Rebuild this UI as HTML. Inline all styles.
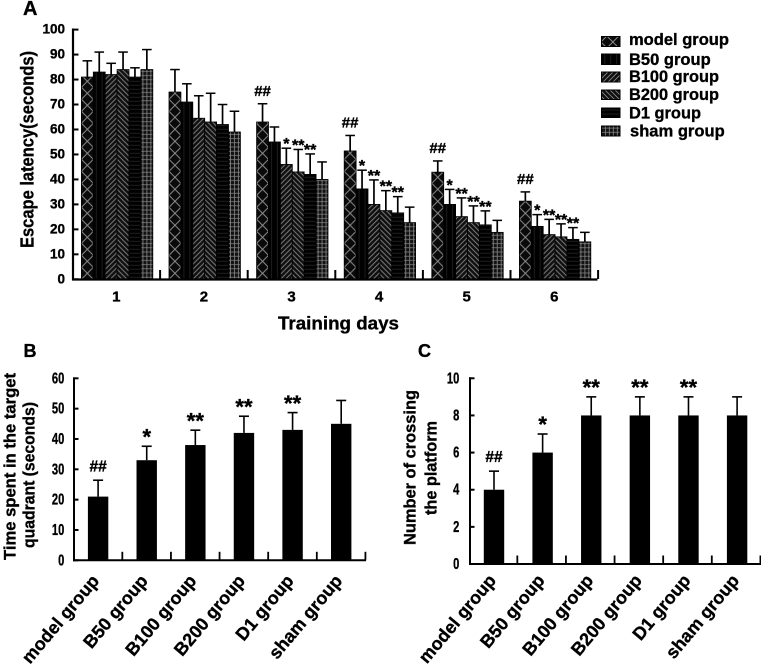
<!DOCTYPE html>
<html lang="en">
<head>
<meta charset="utf-8">
<title>Escape latency chart</title>
<style>
html,body{margin:0;padding:0;background:#fff;width:761px;height:666px;overflow:hidden}
svg{display:block;filter:blur(.35px)}
text{font-family:"Liberation Sans",sans-serif;font-weight:700;fill:#000;stroke:#000;stroke-width:.35px}
</style>
</head>
<body>
<svg id="figure" xmlns="http://www.w3.org/2000/svg" width="761" height="666" viewBox="0 0 761 666">
<defs>
<pattern id="p-model" patternUnits="userSpaceOnUse" width="11.9" height="12"><rect width="11.9" height="12" fill="#0a0a0a"/><path d="M0 0L11.9 12M11.9 0L0 12" stroke="#999" stroke-width=".9"/></pattern>
<pattern id="p-b50" patternUnits="userSpaceOnUse" width="5.9" height="6"><rect width="5.9" height="6" fill="#000"/><path d="M3 0V6" stroke="#1c1c1c" stroke-width="1"/></pattern>
<pattern id="p-b100" patternUnits="userSpaceOnUse" width="5" height="5"><rect width="5" height="5" fill="#101010"/><path d="M-1 6L6 -1M-1 1L1 -1M4 6L6 4" stroke="#8c8c8c" stroke-width=".8"/></pattern>
<pattern id="p-b200" patternUnits="userSpaceOnUse" width="5" height="5"><rect width="5" height="5" fill="#101010"/><path d="M-1 -1L6 6M4 -1L6 1M-1 4L1 6" stroke="#8c8c8c" stroke-width=".8"/></pattern>
<pattern id="p-d1" patternUnits="userSpaceOnUse" width="6" height="4"><rect width="6" height="4" fill="#000"/><path d="M0 2H6" stroke="#1e1e1e" stroke-width="1"/></pattern>
<pattern id="p-sham" patternUnits="userSpaceOnUse" width="3.97" height="4.2"><rect width="3.97" height="4.2" fill="#111"/><path d="M2 0V4.2M0 2.1H3.97" stroke="#8a8a8a" stroke-width=".8"/></pattern>
</defs>

<text x="23" y="15" font-size="20">A</text>
<text x="23.5" y="357" font-size="18">B</text>
<text x="418" y="357" font-size="18">C</text>

<text transform="translate(33.5,248) rotate(-90)" font-size="18" textLength="197" lengthAdjust="spacingAndGlyphs">Escape latency(seconds)</text>
<text x="278" y="329.5" font-size="18" textLength="121" lengthAdjust="spacingAndGlyphs">Training days</text>

<text transform="translate(15.5,560) rotate(-90)" font-size="17" textLength="187" lengthAdjust="spacingAndGlyphs">Time spent in the target</text>
<text transform="translate(34.5,548) rotate(-90)" font-size="17" textLength="146" lengthAdjust="spacingAndGlyphs">quadrant (seconds)</text>
<text transform="translate(415.5,545) rotate(-90)" font-size="17" textLength="155" lengthAdjust="spacingAndGlyphs">Number of crossing</text>
<text transform="translate(436.5,515) rotate(-90)" font-size="17" textLength="94" lengthAdjust="spacingAndGlyphs">the platform</text>

<g>
<rect x="601.5" y="36.5" width="18.5" height="10" fill="url(#p-model)" stroke="#000"/>
<text x="629" y="45" font-size="17" textLength="100" lengthAdjust="spacingAndGlyphs">model group</text>
<rect x="601.5" y="54" width="18.5" height="10.5" fill="url(#p-b50)" stroke="#000"/>
<text x="629" y="65" font-size="17" textLength="81.7" lengthAdjust="spacingAndGlyphs">B50 group</text>
<rect x="601.5" y="72" width="18.5" height="10" fill="url(#p-b100)" stroke="#000"/>
<text x="629" y="82" font-size="17" textLength="90" lengthAdjust="spacingAndGlyphs">B100 group</text>
<rect x="601.5" y="90" width="18.5" height="9.5" fill="url(#p-b200)" stroke="#000"/>
<text x="629" y="100" font-size="17" textLength="90" lengthAdjust="spacingAndGlyphs">B200 group</text>
<rect x="601.5" y="108" width="18.5" height="9.5" fill="url(#p-d1)" stroke="#000"/>
<text x="629" y="118.5" font-size="17" textLength="72" lengthAdjust="spacingAndGlyphs">D1 group</text>
<rect x="601.5" y="126" width="18.5" height="10" fill="url(#p-sham)" stroke="#000"/>
<text x="630" y="136.5" font-size="17" textLength="94.7" lengthAdjust="spacingAndGlyphs">sham group</text>
</g>
</svg>

<script>
/* ---------- Panel A data ---------- */
var dayLabels = ['1', '2', '3', '4', '5', '6'];
var latencyTicks = ['0', '10', '20', '30', '40', '50', '60', '70', '80', '90', '100'];
var modelMeans = [81, 75, 63, 51.4, 42.9, 31.3];
var b50Means = [83, 71, 55, 36.2, 30, 21.2];
var b100Means = [82, 64.5, 46, 30, 25.1, 17.9];
var b200Means = [84, 63, 43, 27.5, 22.7, 17];
var d1Means = [81, 62, 42, 26.6, 21.8, 16];
var shamMeans = [84, 59, 40, 22.7, 18.8, 15];
var modelTops = [87.5, 84, 70.3, 57.6, 47.4, 35];
var b50Tops = [91, 78.3, 61, 43.7, 36, 25.9];
var b100Tops = [86.5, 73.5, 52.5, 39.8, 32.6, 24];
var b200Tops = [91, 74.5, 52, 35.5, 29.4, 22.2];
var d1Tops = [84.7, 70, 50.2, 33.1, 27.4, 20.7];
var shamTops = [92, 67.3, 47, 28.9, 23.6, 18.8];
var modelMarks = ['', '', '##', '##', '##', '##'];
var b50Marks = ['', '', '', '*', '*', '*'];
var b100Marks = ['', '', '*', '**', '**', '**'];
var b200Marks = ['', '', '**', '**', '**', '**'];
var d1Marks = ['', '', '**', '**', '**', '**'];
var shamMarks = ['', '', '', '', '', ''];

/* ---------- Panel B data ---------- */
var groupLabels = ['model group', 'B50 group', 'B100 group', 'B200 group', 'D1 group', 'sham group'];
var timeTicks = ['0', '10', '20', '30', '40', '50', '60'];
var timeMeans = [21, 33, 38, 42, 43, 45];
var timeTops = [26.4, 37.6, 42.9, 47.5, 48.7, 52.7];
var timeMarks = ['##', '*', '**', '**', '**', ''];

/* ---------- Panel C data ---------- */
var crossingTicks = ['0', '2', '4', '6', '8', '10'];
var crossingMeans = [4, 6, 8, 8, 8, 8];
var crossingTops = [5, 7, 9, 9, 9, 9];
var crossingMarks = ['##', '*', '**', '**', '**', ''];

var NS = 'http://www.w3.org/2000/svg';
var root = document.getElementById('figure');

function mk(tag, attrs, parent, txt) {
  var el = document.createElementNS(NS, tag);
  for (var k in attrs) el.setAttribute(k, attrs[k]);
  if (txt !== undefined) el.textContent = txt;
  (parent || root).appendChild(el);
  return el;
}
function line(x1, y1, x2, y2, w, parent, name) {
  var el = mk('line', {x1: x1, y1: y1, x2: x2, y2: y2, stroke: '#000', 'stroke-width': w}, parent);
  
  
  return el;
}

/* ---------- Panel A ---------- */
var yA = function (v) { return 279.3 - v * 2.497; };
var sepA = function (d) { return 72.5 + d * 87.6; };
var barWA = 11.9;
var xA = function (d, s) { return sepA(d) + 8.9 + s * barWA; };

var seriesA = [
  {key: 'model', means: modelMeans, tops: modelTops, marks: modelMarks},
  {key: 'b50', means: b50Means, tops: b50Tops, marks: b50Marks},
  {key: 'b100', means: b100Means, tops: b100Tops, marks: b100Marks},
  {key: 'b200', means: b200Means, tops: b200Tops, marks: b200Marks},
  {key: 'd1', means: d1Means, tops: d1Tops, marks: d1Marks},
  {key: 'sham', means: shamMeans, tops: shamTops, marks: shamMarks}
];

var gA = mk('g', {});



seriesA.forEach(function (s, si) {
  s.means.forEach(function (v, d) {
    var bx = xA(d, si), cx = bx + barWA / 2, top = yA(s.tops[d]);
    line(cx, yA(v), cx, top, 1.7, gA, 'error-bar-stem');
    line(cx - 4.8, top, cx + 4.8, top, 1.5, gA, 'error-bar-cap');
    var bar = mk('rect', {
      transform: 'translate(' + bx + ',' + yA(0) + ')',
      x: 0, y: yA(v) - yA(0), width: barWA, height: yA(0) - yA(v),
      fill: 'url(#p-' + s.key + ')', stroke: '#000', 'stroke-width': 0.8
    }, gA);
    
    
    var m = s.marks[d];
    if (m) {
      var isHash = m.charAt(0) === '#';
      var mark = mk('text', {
        x: cx, y: isHash ? top - 8 : top + 1,
        'text-anchor': 'middle', 'font-size': isHash ? 15 : 16
      }, gA, m);
      
      
    }
  });
});

line(73, 28.5, 73, 280, 2.2, gA, 'panel-a-y-axis');
line(72, 279.5, 597.5, 279.5, 2.2, gA, 'panel-a-x-axis');
latencyTicks.forEach(function (t) {
  var y = yA(Number(t));
  line(72, y, 78.5, y, 2, gA, 'panel-a-y-tick');
  var lab = mk('text', {x: 65, y: y + 4, 'text-anchor': 'end', 'font-size': 13.5}, gA, t);
  
  
});
dayLabels.forEach(function (t, d) {
  line(sepA(d + 1), 270, sepA(d + 1), 279, 2, gA, 'panel-a-x-tick');
  var lab = mk('text', {x: sepA(d) + 43.8, y: 301.5, 'text-anchor': 'middle', 'font-size': 15}, gA, t);
  
  
});

/* ---------- Panels B and C ---------- */
function simplePanel(cfg) {
  var g = mk('g', {});
  
  
  var y = function (v) { return cfg.y0 - v * cfg.unit; };
  var sep = function (i) { return cfg.x0 + i * 48.62; };
  cfg.means.forEach(function (v, i) {
    var cx = sep(i) + cfg.centerOffset, top = y(cfg.tops[i]);
    line(cx, y(v), cx, top, 1.6, g, 'error-bar-stem');
    line(cx - 5, top, cx + 5, top, 1.6, g, 'error-bar-cap');
    var bar = mk('rect', {x: cx - 10.2, y: y(v), width: 20.4, height: cfg.y0 - y(v), fill: '#000'}, g);
    
    
    var m = cfg.marks[i];
    if (m) {
      var isHash = m.charAt(0) === '#';
      var mark = mk('text', {
        x: cx, y: top - cfg.markGap + (isHash ? 5 : 12),
        'text-anchor': 'middle', 'font-size': isHash ? 15.5 : 22
      }, g, m);
      
      
    }
    line(sep(i + 1), cfg.y0 - 8.5, sep(i + 1), cfg.y0, 1.8, g, 'x-tick');
    var lab = mk('text', {
      transform: 'translate(' + (cx + cfg.labelDx) + ',' + (cfg.y0 + cfg.labelDy) + ') rotate(-50)',
      'text-anchor': 'end', 'font-size': 18
    }, g, groupLabels[i]);
    
    
  });
  line(cfg.axisX, cfg.y0 + 1, cfg.axisX, y(Number(cfg.ticks[cfg.ticks.length - 1])) - 1, 2, g, 'y-axis');
  line(cfg.axisX - 1, cfg.y0, sep(6) + 0.6, cfg.y0, 2, g, 'x-axis');
  cfg.ticks.forEach(function (t) {
    var ty = y(Number(t));
    line(cfg.axisX - 1, ty, cfg.axisX + 4.5, ty, 2, g, 'y-tick');
    var lab = mk('text', {
      transform: 'translate(' + cfg.labelRight + ',' + (ty + 5) + ') scale(.72,1)',
      'text-anchor': 'end', 'font-size': 15.5
    }, g, t);
    
    
  });
}

simplePanel({
  name: 'panel-b', means: timeMeans, tops: timeTops, marks: timeMarks, ticks: timeTicks,
  x0: 73.7, y0: 560.3, unit: 3.033, centerOffset: 24.4, axisX: 74, labelRight: 64.3,
  markGap: 13.6, labelDx: 2, labelDy: 21
});
simplePanel({
  name: 'panel-c', means: crossingMeans, tops: crossingTops, marks: crossingMarks, ticks: crossingTicks,
  x0: 468.7, y0: 564, unit: 18.57, centerOffset: 25.3, axisX: 470, labelRight: 459.3,
  markGap: 14, labelDx: 3, labelDy: 17
});
</script>
</body>
</html>
